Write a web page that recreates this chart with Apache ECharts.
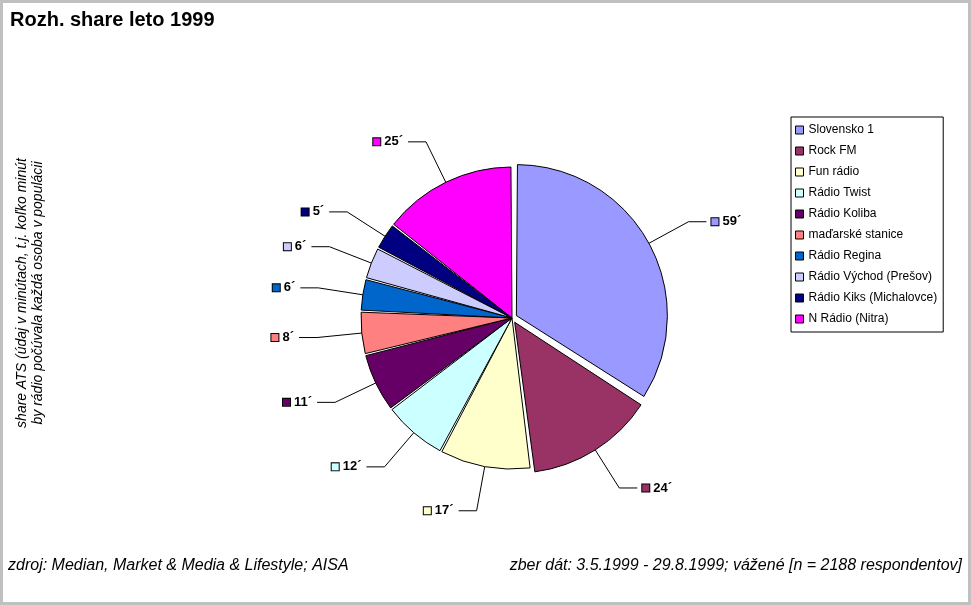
<!DOCTYPE html>
<html><head><meta charset="utf-8">
<script src="https://cdn.jsdelivr.net/npm/echarts@6/dist/echarts.min.js"></script>
<style>html,body{margin:0;padding:0;background:#c0c0c0}#c{position:absolute;left:3px;top:3px;width:965px;height:599px;background:#fff}</style>
</head><body><div id="c"></div>
<script>
const categories=['Slovensko 1','Rock FM','Fun rádio','Rádio Twist','Rádio Koliba','maďarské stanice','Rádio Regina','Rádio Východ (Prešov)','Rádio Kiks (Michalovce)','N Rádio (Nitra)'];
const values=[59,24,17,12,11,8,6,6,5,25];
const colors=['#9999ff','#993366','#ffffcc','#ccffff','#660066','#ff8080','#0066cc','#ccccff','#000080','#ff00ff'];
const chart=echarts.init(document.getElementById('c'));
const rich={};
colors.forEach((c,i)=>{rich['s'+i]={width:7,height:7,backgroundColor:c,borderColor:'#000',borderWidth:1};});
rich.t={fontFamily:'Arial',fontWeight:'bold',fontSize:13,color:'#000',padding:[0,0,0,4]};
chart.setOption({
 animation:false,
 title:{text:'Rozh. share leto 1999',left:2,top:2,textStyle:{fontFamily:'Arial',fontWeight:'bold',fontSize:20,color:'#000'}},
 legend:{orient:'vertical',left:788,top:114,width:160,itemWidth:8,itemHeight:8,itemGap:9,padding:[7,6,7,4],
   borderColor:'#000',borderWidth:1,icon:'rect',
   itemStyle:{borderColor:'#000',borderWidth:1},
   textStyle:{fontFamily:'Arial',fontSize:12,color:'#000'},data:categories},
 graphic:[
  {type:'text',left:5,top:555,style:{text:'zdroj: Median, Market & Media & Lifestyle; AISA',font:'italic 16px Arial',fill:'#000'}},
  {type:'text',right:6,top:555,style:{text:'zber dát: 3.5.1999 - 29.8.1999; vážené [n = 2188 respondentov]',font:'italic 16px Arial',fill:'#000'}},
  {type:'text',x:27,y:290,rotation:Math.PI/2,style:{text:'share ATS (údaj v minútach, t.j. koľko minút\nby rádio počúvala každá osoba v populácii',font:'italic 14px Arial',fill:'#000',align:'center',verticalAlign:'middle',lineHeight:16}}
 ],
 series:[{type:'pie',center:[509,315],radius:151,startAngle:90,clockwise:true,padAngle:0.8,
   selectedMode:'multiple',selectedOffset:5,
   itemStyle:{borderColor:'#000',borderWidth:1},
   label:{show:true,position:'outside',formatter:p=>'{s'+p.dataIndex+'|}{t|'+p.value+'´}',rich:rich},
   labelLine:{show:true,length:45,length2:18,lineStyle:{color:'#000',width:1}},
   data:categories.map((n,i)=>({name:n,value:values[i],selected:i<2,itemStyle:{color:colors[i]}}))
 }]
});
</script></body></html>
